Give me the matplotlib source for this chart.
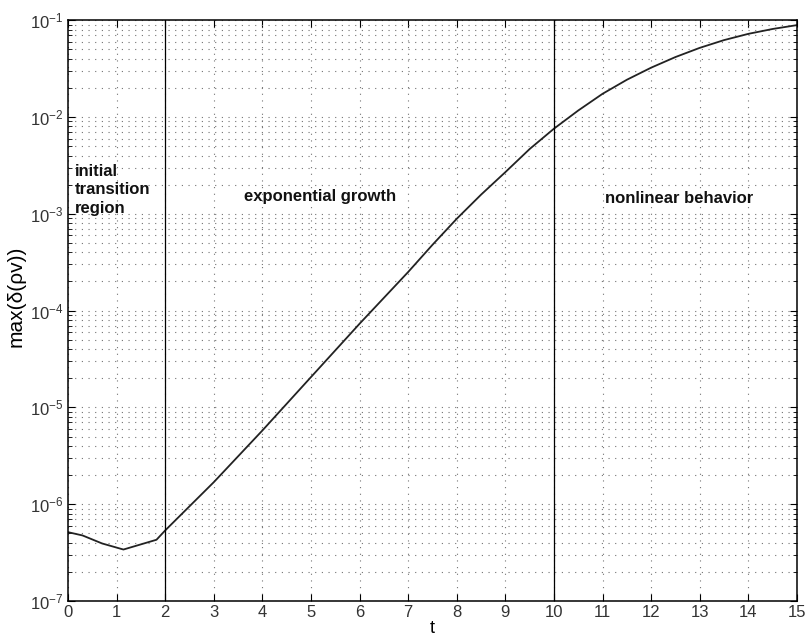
import numpy as np
import matplotlib
matplotlib.use("Agg")
import matplotlib.pyplot as plt
from matplotlib.ticker import LogLocator

plt.rcParams['font.family'] = ['Liberation Sans', 'DejaVu Sans']
plt.rcParams['mathtext.fontset'] = 'custom'
plt.rcParams['mathtext.rm'] = 'Liberation Sans'
plt.rcParams['mathtext.default'] = 'regular'

# curve
t = [0, 0.3, 0.7, 1.14, 1.82, 2, 3, 4, 5, 6, 7, 7.5, 8, 8.5, 9, 9.5,
     10, 10.5, 11, 11.5, 12, 12.5, 13, 13.5, 14, 14.5, 15]
max_drv = [5.14e-7, 4.75e-7, 3.93e-7, 3.40e-7, 4.29e-7, 5.36e-7, 1.69e-6,
           5.78e-6, 2.06e-5, 7.33e-5, 2.51e-4, 4.79e-4, 8.91e-4, 1.58e-3,
           2.70e-3, 4.68e-3, 7.59e-3, 1.17e-2, 1.74e-2, 2.43e-2, 3.24e-2,
           4.17e-2, 5.19e-2, 6.24e-2, 7.24e-2, 8.13e-2, 8.91e-2]

region_bounds = [2, 10]
region_labels = ["initial\ntransition\nregion", "exponential growth", "nonlinear behavior"]
label_pos = [(0.14, 3.3e-3), (5.19, 1.52e-3), (12.57, 1.45e-3)]
label_ha = ['left', 'center', 'center']
label_va = ['top', 'center', 'center']

fig = plt.figure(figsize=(8.08, 6.33), dpi=100)
ax = fig.add_axes([0.0842, 0.0506, 0.9022, 0.9174])

ax.semilogy(t, max_drv, color='#222222', linewidth=1.3)
for b in region_bounds:
    ax.axvline(b, color='black', linewidth=0.9)

for txt, (x, y), ha, va in zip(region_labels, label_pos, label_ha, label_va):
    ax.text(x, y, txt, ha=ha, va=va, fontsize=12, fontweight='bold',
            color='#111111', linespacing=1.3)

ax.set_xlim(0, 15)
ax.set_ylim(1e-7, 1e-1)
ax.set_xticks(np.arange(0, 16, 1))
ax.yaxis.set_major_locator(LogLocator(base=10, numticks=10))
ax.yaxis.set_minor_locator(LogLocator(base=10, subs=np.arange(2, 10), numticks=20))

grid_kw = dict(color='0.45', linestyle=(0, (1, 5)), linewidth=0.8)
ax.grid(True, which='major', axis='both', **grid_kw)
ax.grid(True, which='minor', axis='y', **grid_kw)

ax.tick_params(which='both', direction='in', top=True, right=True,
               labelsize=12, labelcolor='#333333')
ax.tick_params(which='major', length=5)
ax.tick_params(which='minor', length=3)
ax.tick_params(axis='x', pad=3)
for s in ax.spines.values():
    s.set_linewidth(1.1)

ax.set_xlabel("t", fontsize=13, labelpad=0)
ax.set_ylabel("max(δ(ρv))", fontsize=15)
ax.yaxis.set_label_coords(-0.058, 0.525)

fig.savefig("out.png", dpi=100)
